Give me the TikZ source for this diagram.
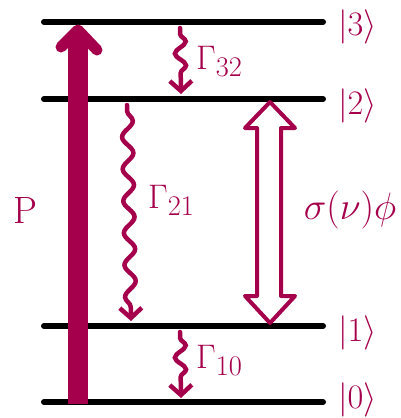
\documentclass[tikz,border=0pt]{standalone}
\usepackage{graphicx}
\usetikzlibrary{decorations.pathmorphing,arrows.meta}
\definecolor{mag}{RGB}{165,0,75}
\newcommand{\biglab}[1]{\scalebox{1.53}{\Huge #1}}
\newcommand{\ketlab}[1]{\scalebox{1.38}{\Huge #1}}
\newcommand{\gamlab}[1]{\scalebox{1.37}{\Huge #1}}
\begin{document}
\begin{tikzpicture}[x=1pt,y=-1pt,
  level/.style={line width=6pt,line cap=round,black},
  wave/.style={mag,line width=4.5pt,line cap=round,
    decoration={snake,amplitude=5.5pt,segment length=#1,pre length=6pt,post length=10pt},
    -{Straight Barb[length=10pt,width=22pt,line width=4.5pt]}},
  lab/.style={mag,inner sep=0pt},
  hollow/.style={mag,line width=4pt,line join=round}]
\useasboundingbox (0,0) rectangle (401,418);
% levels
\coordinate (l3a) at (44,22);  \coordinate (l3b) at (323,22);
\coordinate (l2a) at (44,99);  \coordinate (l2b) at (323,99);
\coordinate (l1a) at (44,326); \coordinate (l1b) at (323,326);
\coordinate (l0a) at (44,402); \coordinate (l0b) at (323,402);
\draw[level] (l3a) -- (l3b);
\draw[level] (l2a) -- (l2b);
\draw[level] (l1a) -- (l1b);
\draw[level] (l0a) -- (l0b);
% kets
\node[lab,anchor=west] (k3) at (338,27) {\ketlab{$|3\rangle$}};
\node[lab,anchor=west] (k2) at (338,106) {\ketlab{$|2\rangle$}};
\node[lab,anchor=west] (k1) at (338,333) {\ketlab{$|1\rangle$}};
\node[lab,anchor=west] (k0) at (338,400) {\ketlab{$|0\rangle$}};
% pump
\coordinate (pb) at (78,404);
\coordinate (pt) at (78,34);
\coordinate (ph) at (78,30);
\coordinate (phl) at (61,47);
\coordinate (phr) at (97,50);
\draw[mag,line width=20pt] (pb) -- (pt);
\draw[mag,line width=11pt,line cap=round,line join=round] (phl) -- (ph) -- (phr);
\node[lab] (P) at (25,210) {\biglab{$\mathrm{P}$}};
% decays
\coordinate (w32a) at (180,28);  \coordinate (w32b) at (181,94);
\coordinate (w21a) at (127,105); \coordinate (w21b) at (131,321);
\coordinate (w10a) at (180,332); \coordinate (w10b) at (181,398);
\draw[wave=24pt,decorate] (w32a) -- (w32b);
\draw[wave=32pt,decorate] (w21a) -- (w21b);
\draw[wave=24pt,decorate] (w10a) -- (w10b);
\node[lab,anchor=north west] (g32) at (196,46) {\gamlab{$\Gamma_{32}$}};
\node[lab,anchor=north west] (g21) at (148,185) {\gamlab{$\Gamma_{21}$}};
\node[lab,anchor=north west] (g10) at (196,345) {\gamlab{$\Gamma_{10}$}};
% stimulated double arrow
\draw[hollow] (270,102) -- (295,128) -- (281,128) -- (281,296) -- (295,296)
  -- (270,323) -- (245,296) -- (257,296) -- (257,128) -- (245,128) -- cycle;
\node[lab] (sig) at (350,210) {\biglab{$\sigma(\nu)\phi$}};
\end{tikzpicture}
\end{document}
